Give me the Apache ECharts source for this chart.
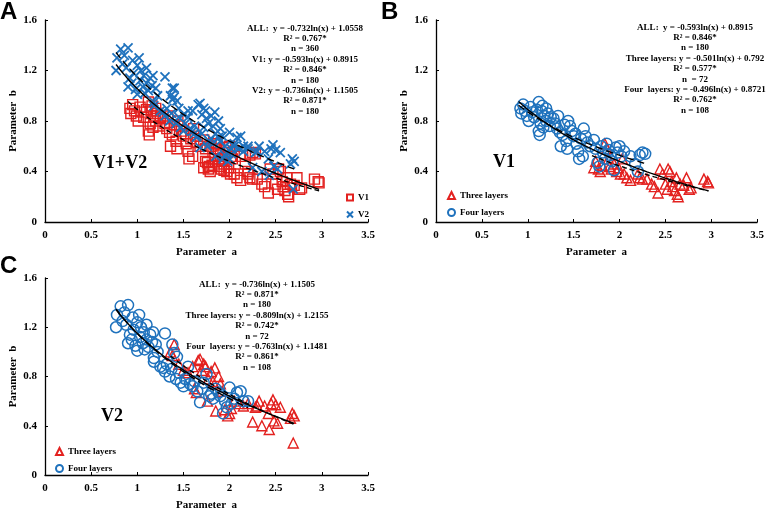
<!DOCTYPE html>
<html>
<head>
<meta charset="utf-8">
<script src="https://cdn.jsdelivr.net/npm/echarts@6/dist/echarts.min.js"></script>
<style>html,body{margin:0;padding:0;background:#fff;}#c{width:767px;height:512px;}</style>
</head>
<body>
<div id="c"></div>
<script>
// ---- Data ----
// V1, four layers (blue circles, panel B)
const v1Four = [[0.92,0.90],[0.93,0.86],[0.95,0.93],[0.97,0.88],[0.99,0.84],[1.01,0.80],[1.03,0.91],[1.05,0.87],[1.07,0.83],
[1.10,0.89],[1.12,0.95],[1.12,0.72],[1.13,0.69],[1.14,0.78],[1.15,0.88],[1.16,0.92],[1.17,0.75],[1.18,0.84],[1.20,0.80],[1.20,0.90],[1.22,0.86],[1.24,0.76],[1.25,0.83],
[1.28,0.82],[1.30,0.78],[1.32,0.74],[1.33,0.84],[1.35,0.71],[1.36,0.60],[1.38,0.69],[1.40,0.77],[1.42,0.64],[1.43,0.58],[1.44,0.80],
[1.46,0.76],[1.48,0.72],[1.50,0.68],[1.52,0.70],[1.53,0.62],[1.55,0.56],[1.56,0.50],[1.58,0.66],[1.60,0.52],[1.61,0.74],[1.63,0.68],[1.65,0.63],
[1.68,0.60],[1.72,0.65],[1.74,0.58],[1.76,0.47],[1.78,0.44],[1.80,0.60],[1.82,0.55],[1.84,0.50],[1.86,0.62],[1.88,0.57],[1.90,0.53],[1.92,0.48],[1.94,0.41],[1.96,0.59],[1.98,0.55],[2.00,0.60],[2.02,0.52],[2.05,0.56],
[2.12,0.52],[2.17,0.46],[2.20,0.40],[2.22,0.53],[2.25,0.55],[2.28,0.54]];
// V1, three layers (red triangles, panel B)
const v1Three = [[1.72,0.43],[1.74,0.48],[1.77,0.42],[1.79,0.40],[1.81,0.45],[1.84,0.62],[1.86,0.58],[1.88,0.50],[1.89,0.44],[1.91,0.42],[1.94,0.46],[1.97,0.40],[1.99,0.43],[2.01,0.38],[2.03,0.50],[2.05,0.38],[2.08,0.35],[2.12,0.33],[2.20,0.38],[2.22,0.35],[2.25,0.34],[2.30,0.34],[2.35,0.30],[2.38,0.28],[2.42,0.23],[2.44,0.42],[2.47,0.38],[2.50,0.30],[2.52,0.26],[2.53,0.42],[2.55,0.40],[2.57,0.32],[2.58,0.28],[2.60,0.25],[2.62,0.35],[2.63,0.22],[2.64,0.20],[2.66,0.30],[2.70,0.29],[2.73,0.35],[2.76,0.26],[2.78,0.27],[2.92,0.34],[2.96,0.32],[2.97,0.31]];
// V2, four layers (blue circles, panel C)
const v2Four = [[0.77,1.20],[0.78,1.30],[0.82,1.37],[0.84,1.25],[0.86,1.32],[0.88,1.22],[0.90,1.38],[0.90,1.07],[0.92,1.14],[0.94,1.10],[0.95,1.28],[0.96,1.18],[0.98,1.05],[1.00,1.01],[1.00,1.24],[1.02,1.30],[1.03,1.12],[1.04,1.20],[1.06,1.07],[1.07,1.16],[1.08,1.02],[1.10,1.10],[1.10,1.22],[1.12,1.04],[1.14,1.14],[1.16,1.08],[1.17,1.16],[1.18,0.95],[1.18,0.92],[1.20,1.06],[1.22,1.00],[1.25,0.88],[1.28,0.87],[1.30,1.15],[1.30,0.84],[1.32,0.90],[1.35,0.80],[1.37,0.86],[1.38,1.06],[1.40,0.99],[1.42,0.78],[1.43,0.96],[1.45,0.83],[1.47,0.75],[1.50,0.72],[1.52,0.78],[1.55,0.88],[1.57,0.74],[1.60,0.72],[1.62,0.76],[1.65,0.68],[1.68,0.59],[1.70,0.70],[1.72,0.75],[1.75,0.82],[1.78,0.64],[1.80,0.66],[1.82,0.62],[1.85,0.70],[1.88,0.67],[1.90,0.64],[1.93,0.50],[1.95,0.60],[1.97,0.55],[2.00,0.71],[2.02,0.58],[2.05,0.62],[2.08,0.67],[2.12,0.68],[2.15,0.60],[2.20,0.60]];
// V2, three layers (red triangles, panel C)
const v2Three = [[1.36,1.00],[1.38,0.97],[1.40,1.06],[1.45,0.90],[1.50,0.85],[1.55,0.83],[1.60,0.88],[1.62,0.70],[1.64,0.67],[1.66,0.93],[1.68,0.94],[1.70,0.85],[1.72,0.90],[1.74,0.88],[1.76,0.60],[1.77,0.78],[1.80,0.84],[1.82,0.76],[1.84,0.87],[1.85,0.52],[1.88,0.80],[1.90,0.74],[1.92,0.68],[1.95,0.53],[1.98,0.48],[2.00,0.50],[2.02,0.54],[2.05,0.60],[2.10,0.58],[2.15,0.56],[2.20,0.58],[2.25,0.43],[2.28,0.55],[2.30,0.56],[2.32,0.60],[2.35,0.40],[2.38,0.56],[2.42,0.50],[2.43,0.37],[2.45,0.58],[2.47,0.61],[2.48,0.44],[2.50,0.57],[2.52,0.42],[2.55,0.55],[2.66,0.46],[2.68,0.50],[2.70,0.48],[2.69,0.26]];

// Fitted curves y = a*ln(x) + b : [a, b, xStart, xEnd]
const fitA_all = [-0.732, 1.0558, 0.77, 2.97];
const fitA_v1  = [-0.593, 0.8915, 0.90, 2.97];
const fitA_v2  = [-0.736, 1.1505, 0.77, 2.70];
const fitB_all = [-0.593, 0.8915, 0.90, 2.97];
const fitB_three = [-0.501, 0.792, 1.70, 2.97];
const fitB_four  = [-0.496, 0.8721, 0.90, 2.28];
const fitC_all = [-0.736, 1.1505, 0.77, 2.70];
const fitC_three = [-0.809, 1.2155, 1.36, 2.70];
const fitC_four  = [-0.763, 1.1481, 0.77, 2.20];

const annotA = ["ALL:  y = -0.732ln(x) + 1.0558","R² = 0.767*","n = 360","V1: y = -0.593ln(x) + 0.8915","R² = 0.846*","n = 180","V2: y = -0.736ln(x) + 1.1505","R² = 0.871*","n = 180"];
const annotB = ["ALL:  y = -0.593ln(x) + 0.8915","R² = 0.846*","n = 180","Three layers: y = -0.501ln(x) + 0.792","R² = 0.577*","n  = 72","Four  layers: y = -0.496ln(x) + 0.8721","R² = 0.762*","n = 108"];
const annotC = ["ALL:  y = -0.736ln(x) + 1.1505","R² = 0.871*","n = 180","Three layers: y = -0.809ln(x) + 1.2155","R² = 0.742*","n = 72","Four  layers: y = -0.763ln(x) + 1.1481","R² = 0.861*","n = 108"];
const panelLetters = ["A","B","C"];
const groupLabels = ["V1+V2","V1","V2"];
const xAxisName = "Parameter  a";
const yAxisName = "Parameter  b";

// ---- Build chart ----
const SERIF = '"Liberation Serif","Times New Roman",serif';
const RED = '#e3211f', BLUE = '#1f72bd';

function curve(f){
  const pts = [];
  for (let x = f[2]; x <= f[3] + 1e-9; x += 0.02) pts.push([x, f[0]*Math.log(x) + f[1]]);
  pts.push([f[3], f[0]*Math.log(f[3]) + f[1]]);
  return pts;
}

const grids = [
  {left:45, top:20, width:323, height:202},
  {left:436, top:20, width:322, height:202},
  {left:45, top:278, width:323, height:201}
];

function xAx(i){ return {gridIndex:i, type:'value', min:0, max:3.5, interval:0.5,
  name:xAxisName, nameLocation:'middle', nameGap:25,
  nameTextStyle:{fontFamily:SERIF, fontWeight:'bold', fontSize:11, color:'#000'},
  axisLine:{onZero:false, lineStyle:{color:'#000', width:1.3}},
  axisTick:{inside:true, length:3, lineStyle:{color:'#000', width:1}},
  axisLabel:{color:'#000', fontFamily:SERIF, fontWeight:'bold', fontSize:11, margin:8},
  splitLine:{show:false}}; }
function yAx(i){ return {gridIndex:i, type:'value', min:0, max:1.6, interval:0.4,
  name:yAxisName, nameLocation:'middle', nameGap:26,
  nameTextStyle:{fontFamily:SERIF, fontWeight:'bold', fontSize:11, color:'#000'},
  axisLine:{show:true, onZero:false, lineStyle:{color:'#000', width:1.3}},
  axisTick:{show:true, inside:true, length:3, lineStyle:{color:'#000', width:1}},
  axisLabel:{color:'#000', fontFamily:SERIF, fontWeight:'bold', fontSize:11, margin:8},
  splitLine:{show:false}}; }

function scat(name, data, i, symbol, size, color, bw){
  return {type:'scatter', name:name, data:data, xAxisIndex:i, yAxisIndex:i, symbol:symbol, symbolSize:size,
    itemStyle:{color:'transparent', borderColor:color, borderWidth:bw, opacity:1}, emphasis:{disabled:true}, silent:true};
}
function line(f, i, dash){
  return {type:'line', data:curve(f), xAxisIndex:i, yAxisIndex:i, showSymbol:false, symbol:'none', silent:true,
    lineStyle:{color:'#000', width:1.4, type:dash}, z:5};
}
const CROSS = 'path://M0,0L10,10M10,0L0,10';

const series = [
  scat('V1', v1Three.concat(v1Four), 0, 'rect', 10, RED, 1.4),
  scat('V2', v2Three.concat(v2Four), 0, CROSS, 9, BLUE, 1.8),
  line(fitA_all, 0, 'solid'), line(fitA_v1, 0, [5,3]), line(fitA_v2, 0, [7,4]),
  scat('Three layers', v1Three, 1, 'triangle', 10, RED, 1.4),
  scat('Four layers', v1Four, 1, 'circle', 11, BLUE, 1.5),
  line(fitB_all, 1, 'solid'), line(fitB_three, 1, [5,3]), line(fitB_four, 1, [7,4]),
  scat('Three layers', v2Three, 2, 'triangle', 10, RED, 1.4),
  scat('Four layers', v2Four, 2, 'circle', 11, BLUE, 1.5),
  line(fitC_all, 2, 'solid'), line(fitC_three, 2, [5,3]), line(fitC_four, 2, [7,4])
];

const legTxt = {fontFamily:SERIF, fontWeight:'bold', fontSize:9, color:'#000'};
const legend = [
  {data:['V1','V2'], left:346, top:193, orient:'vertical', itemWidth:6, itemHeight:6, itemGap:8, textStyle:legTxt, selectedMode:false, padding:0},
  {data:['Three layers','Four layers'], left:447, top:191, orient:'vertical', itemWidth:7, itemHeight:7, itemGap:8, textStyle:legTxt, selectedMode:false, padding:0},
  {data:['Three layers','Four layers'], left:55, top:447, orient:'vertical', itemWidth:7, itemHeight:7, itemGap:8, textStyle:legTxt, selectedMode:false, padding:0}
];

function annot(lines, cx, top){
  return {type:'text', x:cx, y:top, silent:true, style:{text:lines.join('\n'), fill:'#000',
    font:'bold 9px ' + SERIF, textAlign:'center', textVerticalAlign:'top', lineHeight:10.4}};
}
function txt(s, x, y, font, align){
  return {type:'text', x:x, y:y, silent:true, style:{text:s, fill:'#000', font:font, textAlign:align||'center', textVerticalAlign:'middle'}};
}
const graphic = [
  annot(annotA, 305, 23), annot(annotB, 695, 22), annot(annotC, 257, 279),
  txt(panelLetters[0], 0, 12, 'bold 24px "Liberation Sans",Arial,sans-serif', 'left'),
  txt(panelLetters[1], 381, 12, 'bold 24px "Liberation Sans",Arial,sans-serif', 'left'),
  txt(panelLetters[2], 0, 266, 'bold 24px "Liberation Sans",Arial,sans-serif', 'left'),
  txt(groupLabels[0], 120, 163, 'bold 18px ' + SERIF),
  txt(groupLabels[1], 504, 162, 'bold 18px ' + SERIF),
  txt(groupLabels[2], 112, 416, 'bold 18px ' + SERIF)
];

const chart = echarts.init(document.getElementById('c'), null, {renderer:'canvas'});
chart.setOption({
  animation:false, backgroundColor:'#fff',
  grid:grids, xAxis:[xAx(0),xAx(1),xAx(2)], yAxis:[yAx(0),yAx(1),yAx(2)],
  legend:legend, series:series, graphic:graphic
});
</script>
</body>
</html>
